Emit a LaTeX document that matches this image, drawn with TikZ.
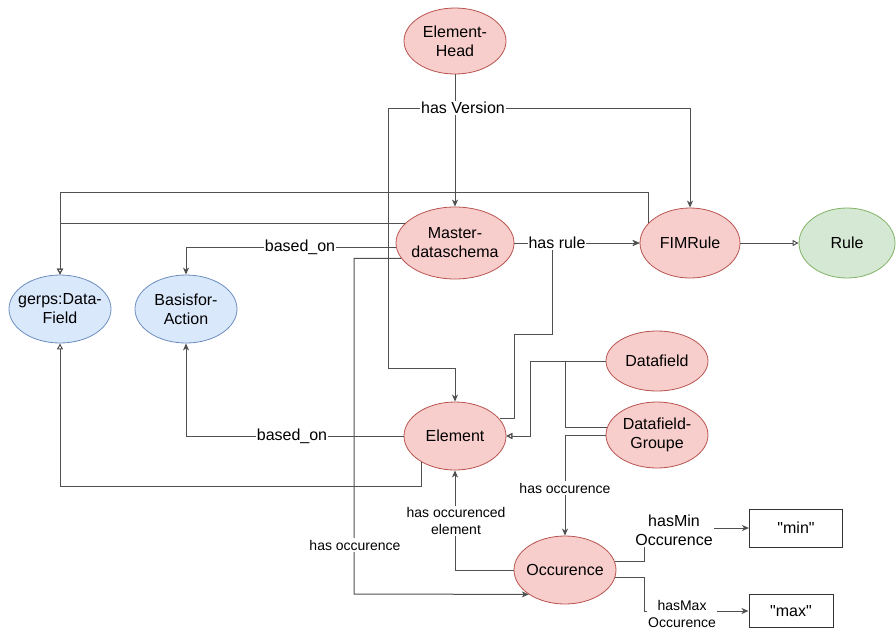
\documentclass[tikz,border=0pt]{standalone}
\usepackage{fontspec}
\setmainfont{Liberation Sans}
% same face without TeX ligatures, so that " stays a straight quote
\newfontfamily\plainquote{Liberation Sans}
\usetikzlibrary{shapes.geometric,arrows.meta}
\definecolor{redfill}{HTML}{F8CECC}
\definecolor{redline}{HTML}{B85450}
\definecolor{bluefill}{HTML}{DAE8FC}
\definecolor{blueline}{HTML}{6C8EBF}
\definecolor{greenfill}{HTML}{D5E8D4}
\definecolor{greenline}{HTML}{82B366}
\definecolor{edgegray}{HTML}{505050}

\begin{document}
\begin{tikzpicture}[x=1pt,y=-1pt,
  txt/.style={align=center, inner sep=0pt, font=\fontsize{16}{19}\selectfont},
  ent/.style={ellipse, draw, line width=0.8pt, inner sep=0pt},
  redent/.style={ent, fill=redfill, draw=redline},
  blueent/.style={ent, fill=bluefill, draw=blueline},
  greenent/.style={ent, fill=greenfill, draw=greenline},
  valbox/.style={rectangle, draw=black!80, fill=white, line width=1pt, inner sep=0pt, font=\plainquote\fontsize{16}{19}\selectfont},
  conn/.style={draw=edgegray, line width=1pt},
  arr/.style={conn, -{Stealth[length=7pt,width=6pt,inset=2pt]}},
  oarr/.style={conn, -{Triangle[open,length=6pt,width=6pt]}},
  lab/.style={fill=white, inner xsep=1pt, inner ysep=1.5pt, align=center, font=\fontsize{16}{19}\selectfont},
  slab/.style={lab, font=\fontsize{14}{16.5}\selectfont},
]
\useasboundingbox (0,0) rectangle (896,630);

% entities
\node[redent, minimum width=102, minimum height=66, label={[txt]center:{Element-\\Head}}] (eh) at (455,41) {};
\node[redent, minimum width=118, minimum height=72, label={[txt]center:{Master-\\dataschema}}] (ms) at (455,243) {};
\node[redent, minimum width=100, minimum height=70, label={[txt]center:FIMRule}] (fim) at (690,243) {};
\node[greenent, minimum width=96, minimum height=70, label={[txt]center:Rule}] (rule) at (847,243) {};
\node[blueent, minimum width=102, minimum height=68, label={[txt]center:{gerps:Data-\\Field}}] (gdf) at (60,309) {};
\node[blueent, minimum width=102, minimum height=68, label={[txt]center:{Basisfor-\\Action}}] (bfa) at (186,309) {};
\node[redent, minimum width=102, minimum height=68, label={[txt]center:Element}] (el) at (455,436) {};
\node[redent, minimum width=102, minimum height=60, label={[txt]center:Datafield}] (df) at (657,361) {};
\node[redent, minimum width=102, minimum height=66, label={[txt]center:{Datafield-\\Groupe}}] (dfg) at (657,435) {};
\node[redent, minimum width=102, minimum height=68, label={[txt]center:Occurence}] (occ) at (565,570) {};
\node[valbox, minimum width=93, minimum height=38] (min) at (796,528) {"min"};
\node[valbox, minimum width=84, minimum height=33] (max) at (791,611) {"max"};

% bend points of the orthogonal connectors
\coordinate (vj) at (455,108);
\coordinate (lv) at (388,368);
\coordinate (r1) at (514,334);
\coordinate (r2) at (552,334);
\coordinate (t1) at (60,192);
\coordinate (o1) at (354,594);
\coordinate (g1) at (60,486);
\coordinate (d1) at (530,436);
\coordinate (d2) at (565,361);
\coordinate (m1) at (644,528);
\coordinate (m2) at (644,611);

% connectors
\draw[arr] (eh) -- (ms);
\draw[arr] (vj) -| (fim.north);
\draw[arr] (vj) -| (lv) -| (el.north);
\draw[arr] (ms) -- (fim);
\draw[arr] (el.21) -| (r1) -- (r2) |- (fim.west);
\draw[arr] (ms.184) -| (bfa.north);
\draw[oarr] (ms.159) -| (gdf.north);
\draw[oarr] (fim.154) |- (t1) -- (gdf.north);
\draw[arr] (ms.196) -| (o1) -- (occ.214);
\draw[arr] (el.west) -| (bfa.south);
\draw[oarr] (el.218) |- (g1) -- (gdf.south);
\draw[oarr] (df.west) -| (d1) -- (el.east);
\draw[oarr] (dfg.171) -| (d2) -| (d1) -- (el.east);
\draw[arr] (dfg.west) -| (occ.north);
\draw[arr] (occ.west) -| (el.south);
\draw[arr] (occ.10) -| (m1) -- (min.west);
\draw[arr] (occ.-9) -| (m2) -- (max.west);
\draw[oarr] (fim) -- (rule);

% connector labels
\node[lab] (lhv) at (463,108) {has Version};
\node[lab] (lhr) at (557,243) {has rule};
\node[lab] (lbo1) at (300,247) {based\_on};
\node[lab] (lbo2) at (292,436) {based\_on};
\node[slab] (lho1) at (355,545) {has occurence};
\node[slab] (lho2) at (565,488) {has occurence};
\node[slab] (lhoe) at (456,521) {has occurenced\\element};
\node[lab] (lmin) at (674,530) {hasMin\\Occurence};
\node[slab] (lmax) at (682,614) {hasMax\\Occurence};
\end{tikzpicture}
\end{document}
